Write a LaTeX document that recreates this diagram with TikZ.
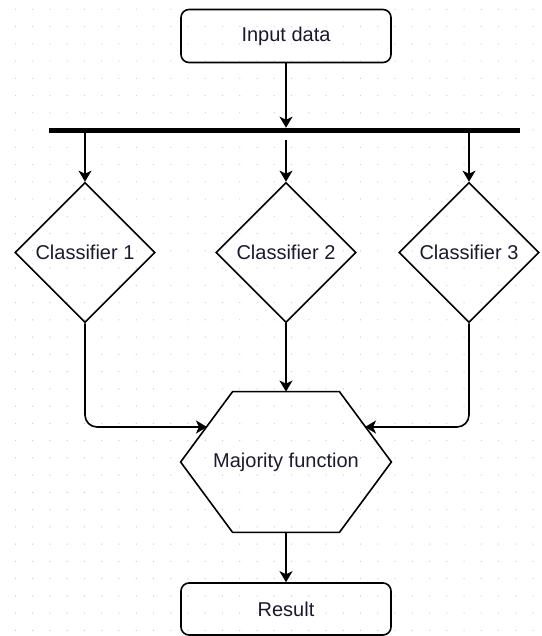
\documentclass[tikz,border=0pt]{standalone}
\usepackage{fontspec}
\setmainfont{Liberation Sans}
\usetikzlibrary{arrows.meta,positioning,calc,shapes.geometric}
\definecolor{gridDot}{HTML}{CFCFCF}
\definecolor{inkText}{HTML}{1A1A2E}

\begin{document}
\begin{tikzpicture}[x=0.5pt,y=-0.5pt,
    font=\fontsize{10}{12}\selectfont,
    rbox/.style={draw,rounded corners=4pt,line width=0.8pt,text=inkText,minimum width=105pt,minimum height=26.5pt},
    classbox/.style={draw,diamond,line width=0.8pt,text=inkText,inner sep=0pt,minimum width=70pt,minimum height=70pt},
    hexbox/.style={inner sep=0pt,text=inkText,minimum width=105pt,minimum height=70pt},
    flow/.style={line width=0.8pt,-{Stealth[length=5.5pt,width=6.5pt,inset=1.5pt]}},
    elbow/.style={flow,rounded corners=6pt},
    busbar/.style={line width=2.8pt}]
  \useasboundingbox (0,0) rectangle (541,636);
  % dotted grid of the canvas
  \foreach \i in {0,...,30}
    \foreach \j in {0,...,36}
      \fill[gridDot] (15.5+17.25*\i,9.3+17.25*\j) circle (0.35pt);

  \node[rbox] (input) at (286,36) {Input data};
  \coordinate (busL) at (49,130.5);
  \coordinate (busR) at (520,130.5);
  \draw[busbar] (busL) -- (busR);

  \node[classbox] (cls1) at (85,252.5) {Classifier 1};
  \node[classbox] (cls2) at (286,252.5) {Classifier 2};
  \node[classbox] (cls3) at (469,252.5) {Classifier 3};

  \node[hexbox] (major) at (286,462) {Majority function};
  \draw[line width=0.8pt] ($(major.north west)+(26pt,0pt)$) -- ($(major.north east)+(-26pt,0pt)$)
    -- (major.east) -- ($(major.south east)+(-26pt,0pt)$) -- ($(major.south west)+(26pt,0pt)$)
    -- (major.west) -- cycle;
  \coordinate (majorL) at (207,427);
  \coordinate (majorR) at (365,427);

  \node[rbox,minimum height=26pt] (result) at (286,609) {Result};

  \draw[flow,shorten >=1.4pt] (input) -- (input |- busL);
  \draw[flow] (cls1.north |- busL) -- (cls1.north);
  \draw[flow,shorten <=4.8pt] (cls2.north |- busL) -- (cls2.north);
  \draw[flow] (cls3.north |- busR) -- (cls3.north);
  \draw[elbow] (cls1.south) |- (majorL);
  \draw[flow] (cls2.south) -- (major.north);
  \draw[elbow] (cls3.south) |- (majorR);
  \draw[flow] (major.south) -- (result.north);
\end{tikzpicture}
\end{document}
